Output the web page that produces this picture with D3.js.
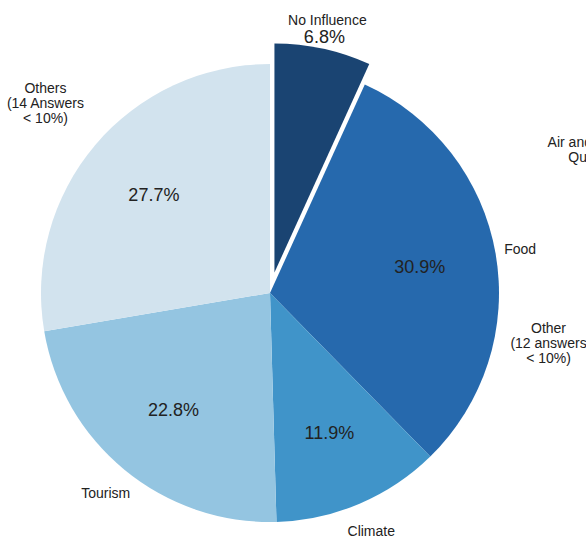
<!DOCTYPE html>
<html>
<head>
<meta charset="utf-8">
<script src="https://cdn.jsdelivr.net/npm/d3@7/dist/d3.min.js"></script>
<style>
  html, body { margin: 0; padding: 0; background: #fff; overflow: hidden; }
  svg { display: block; font-family: "Liberation Sans", Arial, sans-serif; }
</style>
</head>
<body>
<svg id="chart" width="586" height="540"></svg>
<script>
// Share of answers per category (percent)
const sliceNames = ["No Influence", "Food", "Climate", "Tourism", "Others\n(14 Answers\n< 10%)"];
const sliceValues = [6.8, 30.9, 11.9, 22.8, 27.7];
// Extra category notes placed around the Food slice
const noteTexts = ["Air and Water\nQuality", "Other\n(12 answers\n< 10%)"];

// ---- styling / layout ----
const W = 586, H = 540;
const cx = 270, cy = 293, R = 229;
const explodeBy = 21;                 // pull-out distance of the first slice
const sliceColors = ["#1a4472", "#2669ad", "#4094c9", "#94c5e1", "#d2e3ee"];
const pctRadius = 152;
const nameRadius = [250, 254, 259, 259, 294];
const noteSpots = [{ a: 65.8, r: 351 }, { a: 100.2, r: 283 }];
const lineGap = 15;

const svg = d3.select("#chart");
const g = svg.append("g").attr("transform", `translate(${cx},${cy})`);

const color = d3.scaleOrdinal().domain(sliceNames).range(sliceColors);
const pie = d3.pie().sort(null).value(d => d.value);
const arcs = pie(sliceNames.map((n, i) => ({ name: n, value: sliceValues[i], i })));
const arc = d3.arc().innerRadius(0).outerRadius(R);

const mid = d => (d.startAngle + d.endAngle) / 2;
const polar = (a, r) => [r * Math.sin(a), -r * Math.cos(a)];

// slices
const slice = g.selectAll("g.slice").data(arcs).join("g")
  .attr("class", "slice")
  .attr("transform", d => {
    if (d.index !== 0) return null;
    const [x, y] = polar(mid(d), explodeBy);
    return `translate(${x},${y})`;
  });

slice.append("path")
  .attr("d", arc)
  .attr("fill", d => color(d.data.name));

// percentage labels inside the slices (except the pulled-out one)
slice.filter(d => d.index !== 0).append("text")
  .attr("transform", d => {
    const [x, y] = polar(mid(d), pctRadius);
    return `translate(${x},${y})`;
  })
  .attr("text-anchor", "middle")
  .attr("dominant-baseline", "central")
  .attr("font-size", 18)
  .attr("fill", "#222")
  .text(d => d.data.value.toFixed(1) + "%");

// multi-line centred text helper
function block(sel, text, x, y, size) {
  const lines = text.split("\n");
  const t = sel.append("text")
    .attr("text-anchor", "middle")
    .attr("font-size", size)
    .attr("fill", "#222");
  lines.forEach((ln, k) => {
    t.append("tspan")
      .attr("x", x)
      .attr("y", y + (k - (lines.length - 1) / 2) * lineGap)
      .attr("dominant-baseline", "central")
      .text(ln);
  });
  return t;
}

// category names outside the pie
arcs.forEach(d => {
  if (d.index === 0) {
    // pulled-out slice: name plus value above it
    const [ox, oy] = polar(mid(d), explodeBy);
    const [x, y] = polar(mid(d), nameRadius[0]);
    const lab = slice.filter(s => s.index === 0);
    lab.append("text")
      .attr("x", x).attr("y", y - 8.5)
      .attr("text-anchor", "middle").attr("dominant-baseline", "central")
      .attr("font-size", 14).attr("fill", "#222")
      .text(d.data.name);
    lab.append("text")
      .attr("x", x - 3).attr("y", y + 8.7)
      .attr("text-anchor", "middle").attr("dominant-baseline", "central")
      .attr("font-size", 18).attr("fill", "#222")
      .text(d.data.value.toFixed(1) + "%");
  } else {
    const [x, y] = polar(mid(d), nameRadius[d.index]);
    block(g, d.data.name, x, y, 14);
  }
});

// extra notes
noteTexts.forEach((txt, i) => {
  const [x, y] = polar(noteSpots[i].a * Math.PI / 180, noteSpots[i].r);
  block(g, txt, x, y, 14);
});
</script>
</body>
</html>
